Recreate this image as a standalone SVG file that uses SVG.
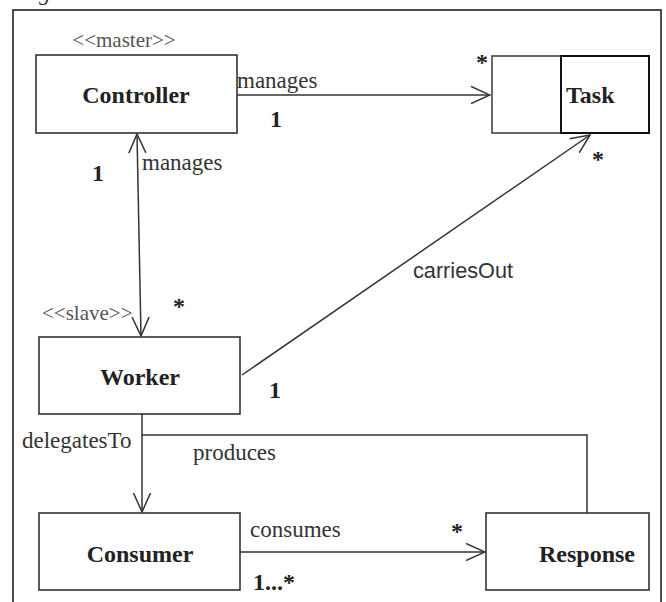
<svg xmlns="http://www.w3.org/2000/svg" width="666" height="602" viewBox="0 0 666 602">
<style>
.box{fill:#fff;stroke:#333;stroke-width:1.6}
.bold{font-family:"Liberation Serif",serif;font-weight:bold;font-size:24px;fill:#222}
.lbl{font-family:"Liberation Serif",serif;font-size:23px;fill:#333}
.ster{font-family:"Liberation Serif",serif;font-size:21px;fill:#555}
.sans{font-family:"Liberation Sans",sans-serif;font-size:22px;fill:#333}
.line{fill:none;stroke:#333;stroke-width:1.5}
</style>
<defs>
<marker id="open" viewBox="0 0 20 20" refX="19" refY="10" markerWidth="20" markerHeight="20" markerUnits="userSpaceOnUse" orient="auto-start-reverse">
<path d="M0,1.5 L19,10 L0,18.5" fill="none" stroke="#333" stroke-width="1.5"/>
</marker>
</defs>
<rect width="666" height="602" fill="#fff"/>
<text x="39" y="0" class="lbl" font-style="italic">g</text>
<rect x="13" y="10" width="648" height="610" fill="none" stroke="#222" stroke-width="1.6"/>

<g id="connectors">
<line x1="237" y1="95" x2="490" y2="95" class="line" marker-end="url(#open)"/>
<line x1="137" y1="134" x2="141" y2="336" class="line" marker-start="url(#open)" marker-end="url(#open)"/>
<line x1="242" y1="375" x2="590" y2="135" class="line" marker-end="url(#open)"/>
<line x1="142" y1="414" x2="142" y2="512" class="line" marker-end="url(#open)"/>
<polyline points="142,435 587,435 587,513" class="line"/>
<line x1="240" y1="552" x2="485" y2="552" class="line" marker-end="url(#open)"/>
<text x="237" y="88" class="lbl">manages</text>
<text x="270" y="127" class="bold">1</text>
<text x="476" y="70" class="bold">*</text>
<text x="142" y="170" class="lbl">manages</text>
<text x="92" y="181" class="bold">1</text>
<text x="173" y="314" class="bold">*</text>
<text x="413" y="278" class="sans" textLength="100" lengthAdjust="spacingAndGlyphs">carriesOut</text>
<text x="592" y="167" class="bold">*</text>
<text x="269" y="398" class="bold">1</text>
<text x="22" y="448" class="lbl">delegatesTo</text>
<text x="193" y="460" class="lbl">produces</text>
<text x="250" y="537" class="lbl">consumes</text>
<text x="451" y="539" class="bold">*</text>
<text x="253" y="590" class="bold">1...*</text>
</g>

<g id="controller">
<text x="124" y="47" class="ster" text-anchor="middle">&lt;&lt;master&gt;&gt;</text>
<rect x="36" y="55" width="201" height="78" class="box"/>
<text x="136" y="103" class="bold" text-anchor="middle">Controller</text>
</g>

<g id="task">
<rect x="492" y="56" width="69" height="77" fill="#fff" stroke="#444" stroke-width="1.6"/>
<rect x="561" y="56" width="88" height="77" fill="#fff" stroke="#111" stroke-width="2"/>
<text x="566" y="103" class="bold">Task</text>
</g>

<g id="worker">
<text x="42" y="320" class="ster">&lt;&lt;slave&gt;&gt;</text>
<rect x="39" y="337" width="201" height="77" class="box"/>
<text x="140" y="385" class="bold" text-anchor="middle">Worker</text>
</g>

<g id="consumer">
<rect x="39" y="513" width="201" height="77" class="box"/>
<text x="140" y="562" class="bold" text-anchor="middle">Consumer</text>
</g>

<g id="response">
<rect x="486" y="513" width="163" height="77" class="box"/>
<text x="587" y="562" class="bold" text-anchor="middle">Response</text>
</g>
</svg>
